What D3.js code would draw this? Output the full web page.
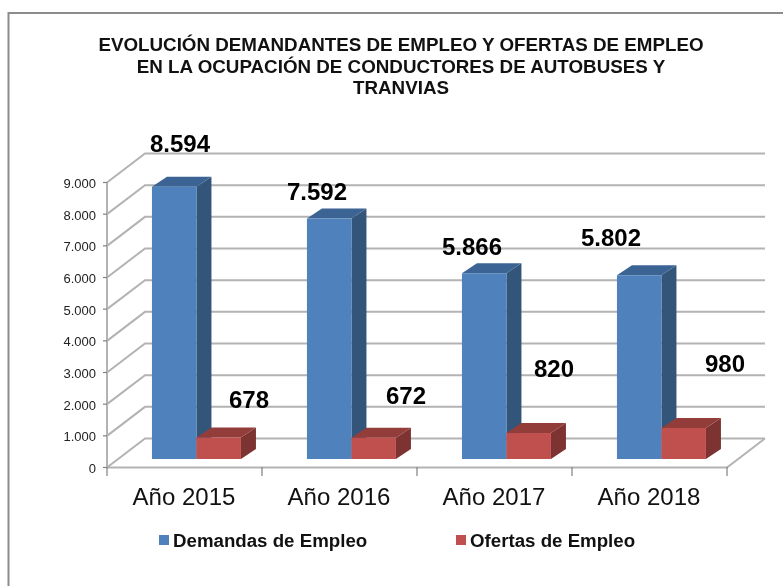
<!DOCTYPE html>
<html><head><meta charset="utf-8">
<script src="https://cdn.jsdelivr.net/npm/d3@7"></script>
<style>html,body{margin:0;padding:0;background:#fff}svg{display:block;filter:blur(0.35px)}text{font-family:"Liberation Sans",Arial,sans-serif}</style>
</head><body><svg id="c" width="783" height="586"></svg>
<script>
const categories=["Año 2015","Año 2016","Año 2017","Año 2018"];
const demandas=[8594,7592,5866,5802];
const ofertas=[678,672,820,980];
const demandasLabels=["8.594","7.592","5.866","5.802"];
const ofertasLabels=["678","672","820","980"];
const yTicks=[0,1000,2000,3000,4000,5000,6000,7000,8000,9000];
const titleLines=["EVOLUCIÓN DEMANDANTES DE EMPLEO Y OFERTAS DE EMPLEO","EN LA OCUPACIÓN DE CONDUCTORES DE AUTOBUSES Y","TRANVIAS"];
const seriesNames=["Demandas de Empleo","Ofertas de Empleo"];

const svg=d3.select("#c");
const x=d3.scaleBand().domain(categories).range([107,727]);
const y=d3.scaleLinear().domain([0,9000]).range([467.5,182.5]);
const wallDx=38,wallDy=-29;
const barDx=15,barDy=-10,barBase=-8.5;
const fmt=v=>d3.format(",")(v).replace(/,/g,".");

svg.append("path").attr("fill","none").attr("stroke","#8c8c8c").attr("stroke-width",2)
 .attr("d",d3.line()([[8.5,586],[8.5,13],[783,13]]));

svg.selectAll(".t").data(titleLines).join("text").attr("x",401).attr("y",(d,i)=>51+i*21.5)
 .attr("text-anchor","middle").attr("font-size",18.8).attr("font-weight","bold").attr("fill","#111").text(d=>d);

const grid=svg.append("g").attr("fill","none").attr("stroke","#b3b3b3").attr("stroke-width",2);
yTicks.forEach(t=>{
  grid.append("path").attr("d",d3.line()([[107,y(t)],[107+wallDx,y(t)+wallDy],[727+wallDx,y(t)+wallDy]]));
});
grid.append("path").attr("d",d3.line()([[107,y(0)],[727,y(0)],[727+wallDx,y(0)+wallDy]]));
grid.append("path").attr("d",d3.line()([[107,y(0)],[107,y(9000)]]));
const axis=svg.append("g").attr("stroke","#808080").attr("stroke-width",1.2);
yTicks.forEach(t=>axis.append("line").attr("x1",103).attr("x2",107).attr("y1",y(t)).attr("y2",y(t)));
[...categories.map(c=>x(c)),727].forEach(v=>axis.append("line").attr("x1",v).attr("x2",v).attr("y1",467).attr("y2",476));

svg.selectAll(".yl").data(yTicks).join("text").attr("x",96).attr("y",t=>y(t)+5.5)
 .attr("text-anchor","end").attr("font-size",13).attr("fill","#222").text(fmt);

function bar(cx,w,val,front,top,side){
  const y0=y(0)+barBase,y1=y(val)+barBase;
  const g=svg.append("g");
  g.append("path").attr("fill",side).attr("d",d3.line()([[cx+w,y1],[cx+w+barDx,y1+barDy],[cx+w+barDx,y0+barDy],[cx+w,y0]]));
  g.append("path").attr("fill",top).attr("d",d3.line()([[cx,y1],[cx+barDx,y1+barDy],[cx+w+barDx,y1+barDy],[cx+w,y1]]));
  g.append("rect").attr("x",cx).attr("y",y1).attr("width",w).attr("height",y0-y1).attr("fill",front);
}
const barW=x.step()*0.2871;
const off=x.step()*0.29;
categories.forEach((c,i)=>{
  const x0=x(c)+off;
  bar(x0,barW,demandas[i],"#4f81bd","#3b6494","#335579");
  bar(x0+barW,barW,ofertas[i],"#c0504d","#933d3b","#7d3331");
});
const lblD=[[180,152],[317,200],[472,255],[611,246]];
const lblO=[[249,408],[406,404],[554,377],[725,372]];
demandasLabels.forEach((t,i)=>svg.append("text").attr("x",lblD[i][0]).attr("y",lblD[i][1]).attr("text-anchor","middle").attr("font-size",24).attr("font-weight","bold").attr("fill","#000").text(t));
ofertasLabels.forEach((t,i)=>svg.append("text").attr("x",lblO[i][0]).attr("y",lblO[i][1]).attr("text-anchor","middle").attr("font-size",24).attr("font-weight","bold").attr("fill","#000").text(t));

svg.selectAll(".xl").data(categories).join("text").attr("x",c=>x(c)+x.step()/2-0.5).attr("y",505)
 .attr("text-anchor","middle").attr("font-size",24).attr("fill","#111").text(c=>c);

[[159,"#4f81bd",173],[456,"#c0504d",470]].forEach((l,i)=>{
  svg.append("rect").attr("x",l[0]).attr("y",535).attr("width",10).attr("height",10).attr("fill",l[1]);
  svg.append("text").attr("x",l[2]).attr("y",546.5).attr("font-size",18.7).attr("font-weight","bold").attr("fill","#111").text(seriesNames[i]);
});
</script></body></html>
